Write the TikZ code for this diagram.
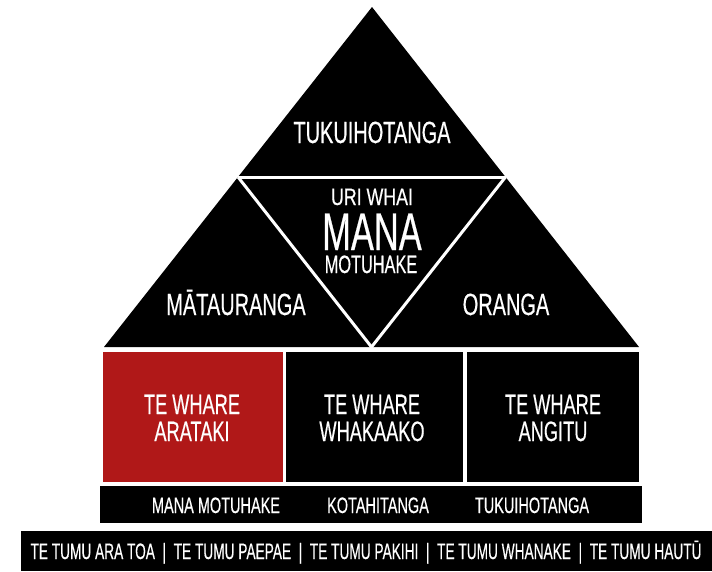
\documentclass[tikz,border=0pt]{standalone}
\usepackage{graphicx}
\usepackage{fontspec}
\setmainfont[FakeStretch=0.65,FakeBold=0.4]{Liberation Sans}
\definecolor{whred}{RGB}{176,24,24}
\tikzset{
  lbl/.style={text=white, inner sep=0pt, anchor=base, font=\fontsize{#1}{#1}\selectfont},
  blk/.style={fill=black, draw=none},
  gap/.style={draw=white, line width=3pt, line join=miter}
}
\begin{document}
\begin{tikzpicture}[x=1pt,y=-1pt]
\useasboundingbox (0,0) rectangle (712,571);
% pyramid
\coordinate (apex) at (372,7);
\coordinate (bl) at (104,347);
\coordinate (br) at (639,347);
\coordinate (ml) at (238,177);
\coordinate (mr) at (505.5,177);
\coordinate (mb) at (371.5,347);
\fill[blk] (apex) -- (bl) -- (br) -- cycle;
\draw[gap] (ml) -- (mr);
\draw[gap] (ml) -- (mb) -- (mr);
% houses
\fill[whred] (103,352) rectangle (283,482);
\fill[blk] (286,352) rectangle (463,482);
\fill[blk] (467,352) rectangle (639,482);
% bars
\fill[blk] (100,486) rectangle (642,523);
\fill[blk] (21,531) rectangle (712,571);
% texts
\node[lbl=30.7] (tuk) at (372,143) {TUKUIHOTANGA};
\node[lbl=23.7] (uri) at (372,205) {\resizebox{82pt}{\height}{URI WHAI}};
\node[lbl=53] (mana) at (372,250) {MANA};
\node[lbl=25.1] (motu) at (371,273) {MOTUHAKE};
\node[lbl=30.7] (mat) at (236,315) {MĀTAURANGA};
\node[lbl=30.7] (ora) at (506,315) {ORANGA};
\node[lbl=28] (w1a) at (192,414) {TE WHARE};
\node[lbl=28] (w1b) at (192,441) {ARATAKI};
\node[lbl=28] (w2a) at (372,414) {TE WHARE};
\node[lbl=28] (w2b) at (372,441) {WHAKAAKO};
\node[lbl=28] (w3a) at (553,414) {TE WHARE};
\node[lbl=28] (w3b) at (553,441) {ANGITU};
\node[lbl=22.3] (v1) at (216,513) {MANA MOTUHAKE};
\node[lbl=22.3] (v2) at (378,513) {KOTAHITANGA};
\node[lbl=22.3] (v3) at (532,513) {TUKUIHOTANGA};
\node[lbl=22.3] (tumu) at (366,559) {\resizebox{671pt}{\height}{TE TUMU ARA TOA \ | \ TE TUMU PAEPAE \ | \ TE TUMU PAKIHI \ | \ TE TUMU WHANAKE \ | \ TE TUMU HAUTŪ}};
\end{tikzpicture}
\end{document}
